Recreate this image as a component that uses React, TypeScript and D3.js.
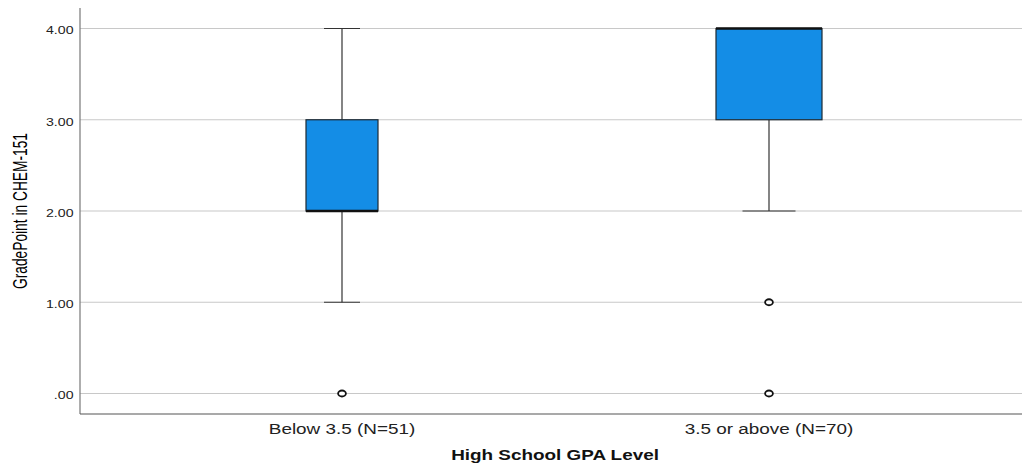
import React from "react";
import * as d3 from "d3";

// Box plot of CHEM-151 grade points by high-school GPA group
const categories = ["Below 3.5 (N=51)", "3.5 or above (N=70)"];
const counts = [51, 70];
const q1 = [2, 3];
const medians = [2, 4];
const q3 = [3, 4];
const whiskerLow = [1, 2];
const whiskerHigh = [4, 4];
const outliers = [[0], [1, 0]];
const yTicks = [0, 1, 2, 3, 4];

const W = 1022;
const H = 468;
const left = 80;
const right = 1022;
const top = 8;
const bottom = 414;
const sx = 1.22; // horizontal text stretch

const fmt = (v: number) => (v === 0 ? ".00" : d3.format(".2f")(v));

export default function App() {
  const y = d3.scaleLinear().domain([0, 4]).range([393.5, 28.5]);
  const x = d3.scalePoint<string>().domain(categories).range([342, 769]);
  const boxW = d3.scaleLinear().domain(d3.extent(counts) as [number, number]).range([72, 106]);
  const font = "Arial, 'Liberation Sans', sans-serif";
  const fill = "#148de6";

  return (
    <svg width={W} height={H} style={{ position: "absolute", left: 0, top: 0, background: "#fff" }}>
      {yTicks.map((t) => (
        <g key={t}>
          <line x1={left} x2={right} y1={y(t)} y2={y(t)} stroke="#c8c8c8" strokeWidth={1.2} />
          <text
            transform={`translate(73.5,${y(t) + 5.8}) scale(${sx},1)`}
            textAnchor="end"
            fontFamily={font}
            fontSize={11.6}
            fill="#222"
          >
            {fmt(t)}
          </text>
        </g>
      ))}
      <line x1={left} x2={left} y1={top} y2={bottom} stroke="#777" strokeWidth={1.2} />
      <line x1={left} x2={right} y1={bottom} y2={bottom} stroke="#555" strokeWidth={1.2} />

      {categories.map((c, i) => {
        const cx = x(c)!;
        const bw = boxW(counts[i]);
        return (
          <g key={c}>
            <line x1={cx} x2={cx} y1={y(whiskerLow[i])} y2={y(q1[i])} stroke="#333" strokeWidth={1.2} />
            <line x1={cx} x2={cx} y1={y(q3[i])} y2={y(whiskerHigh[i])} stroke="#333" strokeWidth={1.2} />
            <line x1={cx - bw / 4} x2={cx + bw / 4} y1={y(whiskerLow[i])} y2={y(whiskerLow[i])} stroke="#333" strokeWidth={1.2} />
            <line x1={cx - bw / 4} x2={cx + bw / 4} y1={y(whiskerHigh[i])} y2={y(whiskerHigh[i])} stroke="#333" strokeWidth={1.2} />
            <rect
              x={cx - bw / 2}
              y={y(q3[i])}
              width={bw}
              height={y(q1[i]) - y(q3[i])}
              fill={fill}
              stroke="#1d2a33"
              strokeWidth={1.2}
            />
            <line x1={cx - bw / 2} x2={cx + bw / 2} y1={y(medians[i])} y2={y(medians[i])} stroke="#111" strokeWidth={2.4} />
            {outliers[i].map((o, j) => (
              <ellipse key={j} cx={cx} cy={y(o)} rx={3.9} ry={3} fill="#fff" stroke="#111" strokeWidth={1.8} />
            ))}
            <text
              transform={`translate(${cx},433.5) scale(${sx},1)`}
              textAnchor="middle"
              fontFamily={font}
              fontSize={15.5}
              fill="#222"
            >
              {c}
            </text>
          </g>
        );
      })}

      <text
        transform={`translate(555,460) scale(${sx},1)`}
        textAnchor="middle"
        fontFamily={font}
        fontSize={15.5}
        fontWeight="bold"
        fill="#111"
      >
        High School GPA Level
      </text>
      <text
        transform={`translate(26.5,211) scale(1.4,1) rotate(-90)`}
        textAnchor="middle"
        fontFamily={font}
        fontSize={13.8}
        fill="#000"
        textLength={156}
        lengthAdjust="spacingAndGlyphs"
      >
        GradePoint in CHEM-151
      </text>
    </svg>
  );
}
